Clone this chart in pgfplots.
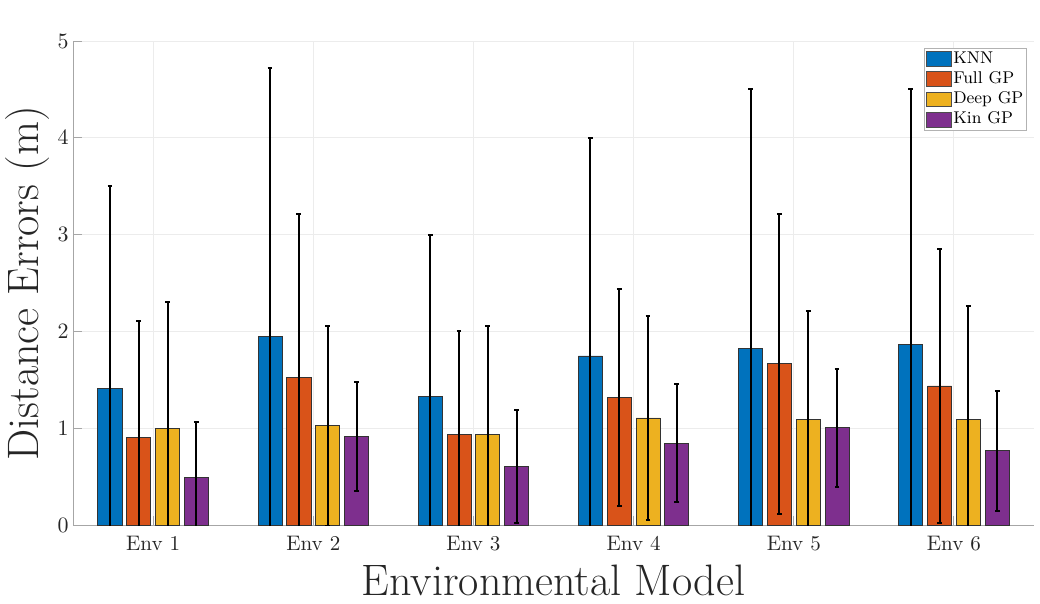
\documentclass[border=0pt]{standalone}
\usepackage{pgfplots}
\pgfplotsset{compat=1.18}
\usepackage{pgfplotstable}

\definecolor{mblue}{rgb}{0,0.447,0.741}
\definecolor{mred}{rgb}{0.85,0.325,0.098}
\definecolor{myellow}{rgb}{0.929,0.694,0.125}
\definecolor{mpurple}{rgb}{0.494,0.184,0.556}
\definecolor{axgray}{rgb}{0.15,0.15,0.15}

% mean and symmetric error (m) per environment
\pgfplotstableread{
x knn  knne full fulle deep deepe kin  kine
1 1.41 2.09 0.91 1.20  1.00 1.31  0.50 0.57
2 1.95 2.77 1.53 1.69  1.03 1.03  0.92 0.56
3 1.33 1.67 0.94 1.07  0.94 1.12  0.61 0.58
4 1.75 2.25 1.32 1.12  1.11 1.05  0.85 0.61
5 1.83 2.67 1.67 1.55  1.09 1.12  1.01 0.61
6 1.87 2.63 1.44 1.41  1.09 1.18  0.77 0.62
}\errtable

\begin{document}
\begin{tikzpicture}
\begin{axis}[
    scale only axis,
    width=480pt, height=242pt,
    xmin=0.5, xmax=6.5,
    ymin=0, ymax=5,
    ytick={0,1,2,3,4,5},
    xtick={1,2,3,4,5,6},
    xticklabels={Env 1,Env 2,Env 3,Env 4,Env 5,Env 6},
    ybar, bar width=0.15, bar shift=0pt,
    axis x line*=bottom, axis y line*=left,
    axis line style={gray!70, line width=0.5pt},
    tick style={gray!70, line width=0.5pt},
    tick align=inside, major tick length=4.5pt,
    grid=major,
    major grid style={gray!15, line width=0.5pt},
    tick label style={font=\fontsize{10.5}{12}\selectfont, text=axgray},
    xticklabel style={anchor=base, yshift=-12.5pt},
    yticklabel style={inner sep=2pt},
    xlabel={Environmental Model},
    ylabel={Distance Errors (m)},
    label style={font=\fontsize{22}{26}\selectfont, text=axgray, inner sep=0pt},
    xlabel style={at={([yshift=-35pt]rel axis cs:0.5,0)}, anchor=base},
    ylabel style={at={([xshift=-17.5pt]rel axis cs:0,0.5)}, anchor=base},
    legend style={at={([xshift=-3.5pt,yshift=-3.5pt]rel axis cs:1,1)}, anchor=north east,
        font=\fontsize{8.5}{9}\selectfont, draw=gray!60,
        inner sep=0.8pt, row sep=1.3pt,
        nodes={inner ysep=0.5pt, inner xsep=0.8pt, text height=6pt, text depth=1.8pt},
        cells={anchor=west}},
    legend image code/.code={
        \draw[#1, draw=black!70, line width=0.3pt] (0pt,-3.65pt) rectangle (12.5pt,3.65pt);},
    error bars/y dir=both,
    error bars/y explicit,
    error bars/error bar style={black, line width=1pt},
    error bars/error mark options={black, line width=1pt, mark size=1.2pt, rotate=90},
    every axis plot/.append style={draw=black!80, line width=0.4pt},
]
\addplot[fill=mblue] table[x expr=\thisrow{x}-0.27, y=knn, y error=knne] {\errtable};
\addplot[fill=mred] table[x expr=\thisrow{x}-0.09, y=full, y error=fulle] {\errtable};
\addplot[fill=myellow] table[x expr=\thisrow{x}+0.09, y=deep, y error=deepe] {\errtable};
\addplot[fill=mpurple] table[x expr=\thisrow{x}+0.27, y=kin, y error=kine] {\errtable};
\legend{KNN, Full GP, Deep GP, Kin GP}
\end{axis}
\path ([xshift=-36.5pt,yshift=-39pt]current axis.south west)
    rectangle ([xshift=3pt,yshift=20.5pt]current axis.north east);
\end{tikzpicture}
\end{document}
